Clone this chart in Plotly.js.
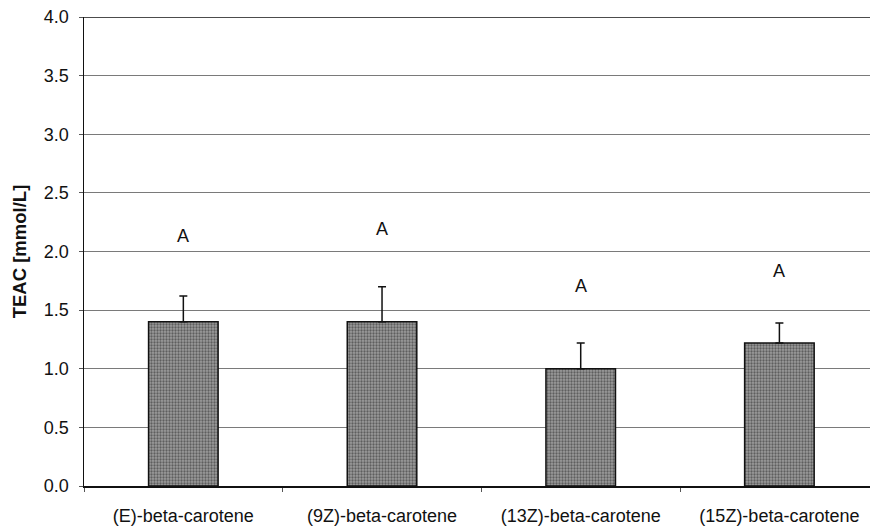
<!DOCTYPE html>
<html><head><meta charset="utf-8">
<script src="https://cdn.plot.ly/plotly-3.0.1.min.js"></script>
<style>html,body{margin:0;padding:0;background:#fff}</style>
</head><body><div id="chart" style="width:870px;height:527px"></div>
<script>
const categories = ["(E)-beta-carotene", "(9Z)-beta-carotene", "(13Z)-beta-carotene", "(15Z)-beta-carotene"];
const teac = [1.40, 1.40, 1.00, 1.22];
const teacSD = [0.22, 0.30, 0.22, 0.17];
const groupLetters = ["A", "A", "A", "A"];
const letterY = [2.13, 2.19, 1.71, 1.83];
const yTicks = [0, 0.5, 1, 1.5, 2, 2.5, 3, 3.5, 4];

const trace = {
  type: "bar", x: categories, y: teac, width: 0.35,
  marker: {color: "#8a8a8a", line: {color: "#111", width: 1.5},
    pattern: {shape: ".", fgcolor: "#5e5e5e", bgcolor: "#9c9c9c", size: 3, solidity: 0.45}},
  error_y: {type: "data", symmetric: false, array: teacSD, arrayminus: teacSD.map(() => 0),
    color: "#111", thickness: 1.5, width: 4},
  hoverinfo: "skip"
};

const annotations = categories.map((c, i) => ({
  x: c, y: letterY[i], xref: "x", yref: "y", text: groupLetters[i], showarrow: false,
  font: {family: "Liberation Sans, Arial, sans-serif", size: 18, color: "#111"}
}));

const layout = {
  width: 870, height: 527,
  margin: {l: 84, r: 0, t: 17, b: 41},
  paper_bgcolor: "#fff", plot_bgcolor: "#fff",
  showlegend: false,
  font: {family: "Liberation Sans, Arial, sans-serif", size: 18, color: "#111"},
  xaxis: {
    type: "category", range: [-0.5, 3.456], tickson: "boundaries",
    ticks: "outside", ticklen: 4, tickcolor: "#555", showgrid: false,
    showline: true, linecolor: "#111", linewidth: 1.5,
    ticklabelstandoff: 13, tickfont: {size: 18}, fixedrange: true
  },
  yaxis: {
    range: [0, 4], tickvals: yTicks, ticktext: yTicks.map(v => v.toFixed(1)),
    ticks: "outside", ticklen: 4, tickcolor: "#555",
    showgrid: true, gridcolor: "#7a7a7a", gridwidth: 1, zeroline: false,
    showline: true, linecolor: "#111", linewidth: 1.5,
    ticklabelstandoff: 6, tickfont: {size: 18},
    title: {text: "<b>TEAC [mmol/L]</b>", font: {size: 18.5}, standoff: 12}
  },
  shapes: [{type: "line", xref: "paper", yref: "y", x0: 0, x1: 1, y0: 4, y1: 4,
    line: {color: "#111", width: 1.5}}],
  annotations: annotations
};

Plotly.newPlot("chart", [trace], layout, {staticPlot: true, displayModeBar: false});
</script></body></html>
